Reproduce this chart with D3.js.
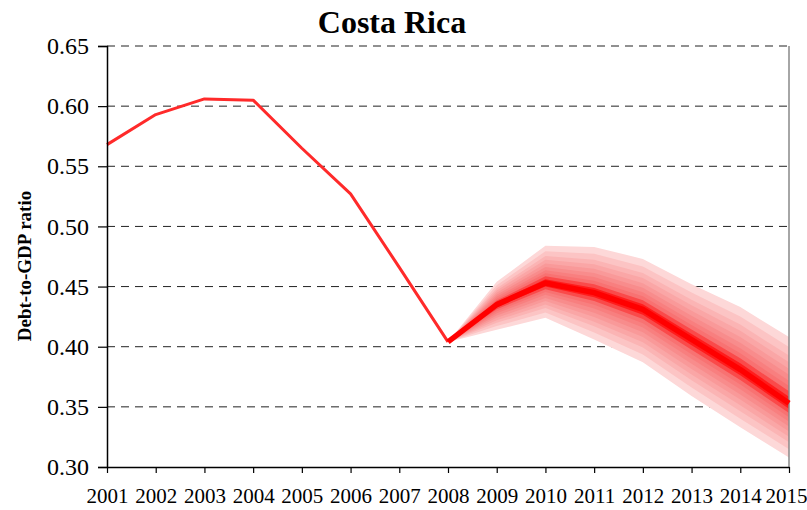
<!DOCTYPE html>
<html><head><meta charset="utf-8">
<script src="https://cdn.jsdelivr.net/npm/d3@7"></script>
<style>html,body{margin:0;padding:0;background:#fff;}svg{display:block;}
svg text{font-family:'Liberation Serif','Times New Roman',serif;}</style>
</head><body>
<script>
// ---- data ----
const years = ["2001","2002","2003","2004","2005","2006","2007","2008","2009","2010","2011","2012","2013","2014","2015"];
const histYears = ["2001","2002","2003","2004","2005","2006","2007","2008"];
const histValues = [0.568, 0.593, 0.606, 0.605, 0.565, 0.527, 0.466, 0.404];
const fcYears = ["2008","2009","2010","2011","2012","2013","2014","2015"];
const fcMedian = [0.404, 0.435, 0.453, 0.445, 0.431, 0.406, 0.381, 0.353];
const fcUpper  = [0.404, 0.454, 0.484, 0.483, 0.473, 0.452, 0.433, 0.408];
const fcLower  = [0.404, 0.414, 0.424, 0.406, 0.387, 0.359, 0.333, 0.308];
// band edges as share of the outer spread (outermost first)
const bandShares = [1.0, 0.85, 0.72, 0.62, 0.52, 0.43, 0.34, 0.26, 0.18, 0.1];
const bandColors = ["#fdd8d8","#fcc4c4","#fbb4b4","#faa6a6","#f99999","#f88c8c","#f87f7f","#f87272","#fa4a4a","#ff1c1c"];
const yTicks = [0.30, 0.35, 0.40, 0.45, 0.50, 0.55, 0.60, 0.65];
const title = "Costa Rica";
const yTitle = "Debt-to-GDP ratio";

// ---- chart ----
const W = 807, H = 510;
const L = 107, R = 789, T = 46, B = 467;
const font = "'Liberation Serif','Times New Roman',serif";
const svg = d3.select("body").append("svg").attr("width", W).attr("height", H);
const x = d3.scalePoint().domain(years).range([L, R]);
const y = d3.scaleLinear().domain([0.30, 0.65]).range([B, T]);

// gridlines
svg.append("g").selectAll("line").data(yTicks.filter(d => d > 0.30)).join("line")
  .attr("x1", L).attr("x2", R).attr("y1", d => y(d)).attr("y2", d => y(d))
  .attr("stroke", "#222").attr("stroke-width", 1).attr("stroke-dasharray", "8,6");

// fan
const fc = fcYears.map((yr, i) => ({yr, m: fcMedian[i], u: fcUpper[i], l: fcLower[i]}));
bandShares.forEach((s, k) => {
  const area = d3.area()
    .x(d => x(d.yr))
    .y0(d => y(d.m - s * (d.m - d.l)))
    .y1(d => y(d.m + s * (d.u - d.m)));
  svg.append("path").datum(fc).attr("d", area).attr("fill", bandColors[k]);
});

// right border
svg.append("line").attr("x1", R).attr("x2", R).attr("y1", T).attr("y2", B)
  .attr("stroke", "#888").attr("stroke-width", 1.5);

// historical line
const hist = histYears.map((yr, i) => ({yr, v: histValues[i]}));
svg.append("path").datum(hist)
  .attr("d", d3.line().x(d => x(d.yr)).y(d => y(d.v)))
  .attr("fill", "none").attr("stroke", "#ff2a2a").attr("stroke-width", 3).attr("stroke-linejoin", "round");

// median forecast
svg.append("path").datum(fc)
  .attr("d", d3.line().x(d => x(d.yr)).y(d => y(d.m)))
  .attr("fill", "none").attr("stroke", "#ff0000").attr("stroke-width", 5.5)
  .attr("stroke-linejoin", "round").attr("stroke-linecap", "butt");

// axes
const yAxis = d3.axisLeft(y).tickValues(yTicks).tickFormat(d3.format(".2f")).tickSize(9).tickPadding(9);
const gy = svg.append("g").attr("transform", `translate(${L},0)`).call(yAxis);
gy.attr("font-family", null);
gy.select(".domain").attr("stroke", "#000").attr("stroke-width", 1.5);
gy.selectAll(".tick line").attr("stroke", "#000").attr("stroke-width", 1.2);
gy.selectAll("text").style("font-family", font).style("font-size", "24px").attr("fill", "#000");

const xAxis = d3.axisBottom(x).tickSize(6).tickPadding(15).tickSizeOuter(0);
const gx = svg.append("g").attr("transform", `translate(0,${B})`).call(xAxis);
gx.attr("font-family", null);
gx.select(".domain").attr("stroke", "#000").attr("stroke-width", 1.5);
gx.selectAll(".tick line").attr("stroke", "#000").attr("stroke-width", 1.2);
gx.selectAll("text").style("font-family", font).style("font-size", "21px").attr("fill", "#000");
// keep the last year label inside the page
gx.selectAll(".tick").filter(d => d === years[years.length - 1]).select("text")
  .attr("text-anchor", "end").attr("x", W - R);

// title
svg.append("text").attr("x", 392).attr("y", 33).attr("text-anchor", "middle")
  .style("font-family", font).attr("font-weight", "bold").style("font-size", "32px").text(title);

// y title
svg.append("text").attr("transform", "translate(31,266) rotate(-90)").attr("text-anchor", "middle")
  .style("font-family", font).attr("font-weight", "bold").style("font-size", "19px").text(yTitle);
</script>
</body></html>
